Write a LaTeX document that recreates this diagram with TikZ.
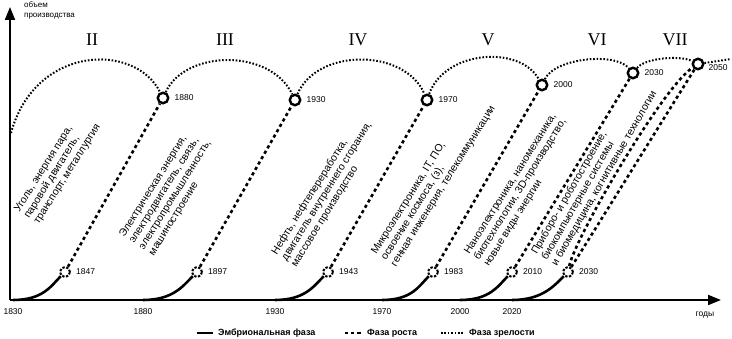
\documentclass[tikz,border=0pt]{standalone}
\usepackage{fontspec}
\setmainfont{Liberation Sans}
\newfontfamily\wavefont{Liberation Serif}
\usetikzlibrary{arrows.meta,positioning}

\begin{document}
\begin{tikzpicture}[x=1pt,y=-1pt,font=\fontsize{8.5}{10}\selectfont,
  axis/.style={line width=2pt,-{Triangle[length=13pt,width=10pt]}},
  embryo/.style={line width=2.6pt},
  growth/.style={line width=2.6pt,dash pattern=on 3.2pt off 3pt},
  mature/.style={line width=2pt,dash pattern=on 1.6pt off 1.8pt},
  peak/.style={circle,draw,fill=white,line width=2.4pt,minimum size=10.5pt,inner sep=0pt},
  onset/.style={circle,draw,fill=white,line width=2pt,dash pattern=on 2.4pt off 1.6pt,minimum size=10pt,inner sep=0pt},
  year/.style={inner sep=1pt},
  wave/.style={font=\wavefont\fontsize{18}{18}\selectfont},
  tech/.style={rotate=58,anchor=north west,align=left,inner sep=0pt,font=\fontsize{10.5}{11.5}\selectfont},
  legend/.style={inner sep=0pt,font=\bfseries\fontsize{9}{10}\selectfont}]
  \useasboundingbox (0,0) rectangle (732,339);
  \coordinate (o) at (10,300);
  \coordinate (ytop) at (10,7);
  \coordinate (xend) at (721,300);
  \draw[axis] (o) -- (ytop);
  \draw[axis] (o) -- (xend);
  \node[anchor=north west,align=left,inner sep=0pt,font=\fontsize{8}{10.5}\selectfont] (ylab) at (24,1) {объем\\производства};
  \node (xlab) at (705,315) {годы};

  \node[peak] (p1880) at (163,98) {};
  \node[peak] (p1930) at (295,100) {};
  \node[peak] (p1970) at (427,100) {};
  \node[peak] (p2000) at (542,85) {};
  \node[peak] (p2030) at (633,73) {};
  \node[peak] (p2050) at (698,64) {};
  \node[onset] (s1847) at (65,272) {};
  \node[onset] (s1897) at (197,272) {};
  \node[onset] (s1943) at (328,272) {};
  \node[onset] (s1983) at (433,272) {};
  \node[onset] (s2010) at (512,272) {};
  \node[onset] (s2030) at (568,272) {};
  \node[year,right=4pt of p1880] (y1880) {1880};
  \node[year,right=4pt of p1930] (y1930) {1930};
  \node[year,right=4pt of p1970] (y1970) {1970};
  \node[year,right=4pt of p2000] (y2000) {2000};
  \node[year,right=4pt of p2030] (y2030) {2030};
  \node[year,right=3pt of p2050,yshift=-4pt] (y2050) {2050};
  \node[year,right=4pt of s1847] (y1847) {1847};
  \node[year,right=4pt of s1897] (y1897) {1897};
  \node[year,right=4pt of s1943] (y1943) {1943};
  \node[year,right=4pt of s1983] (y1983) {1983};
  \node[year,right=4pt of s2010] (y2010) {2010};
  \node[year,right=4pt of s2030] (y2030b) {2030};

  \coordinate (t1830) at (13,300);
  \coordinate (t1880) at (143,300);
  \coordinate (t1930) at (275,300);
  \coordinate (t1970) at (382,300);
  \coordinate (t2000) at (460,300);
  \coordinate (t2020) at (512,300);
  \node[year,below=7pt of t1830] (l1830) {1830};
  \node[year,below=7pt of t1880] (l1880) {1880};
  \node[year,below=7pt of t1930] (l1930) {1930};
  \node[year,below=7pt of t1970] (l1970) {1970};
  \node[year,below=7pt of t2000] (l2000) {2000};
  \node[year,below=7pt of t2020] (l2020) {2020};

  \draw[embryo] (t1830) .. controls +(30,0) and +(-14,14) .. (s1847);
  \draw[embryo] (t1880) .. controls +(30,0) and +(-14,14) .. (s1897);
  \draw[embryo] (t1930) .. controls +(30,0) and +(-14,14) .. (s1943);
  \draw[embryo] (t1970) .. controls +(30,0) and +(-14,14) .. (s1983);
  \draw[embryo] (t2000) .. controls +(30,0) and +(-14,14) .. (s2010);
  \draw[embryo] (t2020) .. controls +(30,0) and +(-14,14) .. (s2030);

  \draw[growth] (s1847) -- (p1880);
  \draw[growth] (s1897) -- (p1930);
  \draw[growth] (s1943) -- (p1970);
  \draw[growth] (s1983) -- (p2000);
  \draw[growth] (s2010) -- (p2030);
  \draw[growth] (s2030) .. controls (575,238) and (662,88) .. (p2050);
  \draw[growth] (s2030) .. controls (590,238) and (680,92) .. (p2050);

  \coordinate (y0) at (11,133);
  \coordinate (tail) at (731,59);
  \draw[mature] (y0) .. controls (35,45) and (135,42) .. (p1880);
  \draw[mature] (p1880) .. controls (185,50) and (270,48) .. (p1930);
  \draw[mature] (p1930) .. controls (317,48) and (405,48) .. (p1970);
  \draw[mature] (p1970) .. controls (445,50) and (520,45) .. (p2000);
  \draw[mature] (p2000) .. controls (555,58) and (615,52) .. (p2030);
  \draw[mature] (p2030) .. controls (645,58) and (680,55) .. (p2050);
  \draw[mature] (p2050) -- (tail);

  \node[wave] (w2) at (92,40) {II};
  \node[wave] (w3) at (225,40) {III};
  \node[wave] (w4) at (358,40) {IV};
  \node[wave] (w5) at (488,40) {V};
  \node[wave] (w6) at (597,40) {VI};
  \node[wave] (w7) at (675,40) {VII};

  \node[tech] (k2) at (13,209) {Уголь, энергия пара,\\паровой двигатель,\\транспорт, металлургия};
  \node[tech] (k3) at (118,234) {Электрическая энергия,\\электродвигатель, связь,\\электропромышленность,\\машиностроение};
  \node[tech] (k4) at (270,251) {Нефть, нефтепереработка,\\двигатель внутреннего сгорания,\\массовое производство};
  \node[tech] (k5) at (370,251) {Микроэлектроника, IT, ПО,\\освоение космоса, (з),\\генная инженерия, телекоммуникации};
  \node[tech] (k6) at (463,251) {Наноэлектроника, наномеханика,\\биотехнологии, 3D-производство,\\новые виды энергии};
  \node[tech,rotate=2] (k7) at (530,251) {Приборо- и роботостроение,\\биокомпьютерные системы\\и биомедицина, когнитивные технологии};

  \coordinate (g1a) at (197,333);
  \coordinate (g1b) at (213,333);
  \coordinate (g2a) at (345,333);
  \coordinate (g2b) at (362,333);
  \coordinate (g3a) at (441,333);
  \coordinate (g3b) at (464,333);
  \draw[embryo] (g1a) -- (g1b);
  \draw[growth] (g2a) -- (g2b);
  \draw[mature] (g3a) -- (g3b);
  \node[legend,right=5pt of g1b] (g1) {Эмбриональная фаза};
  \node[legend,right=5pt of g2b] (g2) {Фаза роста};
  \node[legend,right=5pt of g3b] (g3) {Фаза зрелости};
\end{tikzpicture}
\end{document}
